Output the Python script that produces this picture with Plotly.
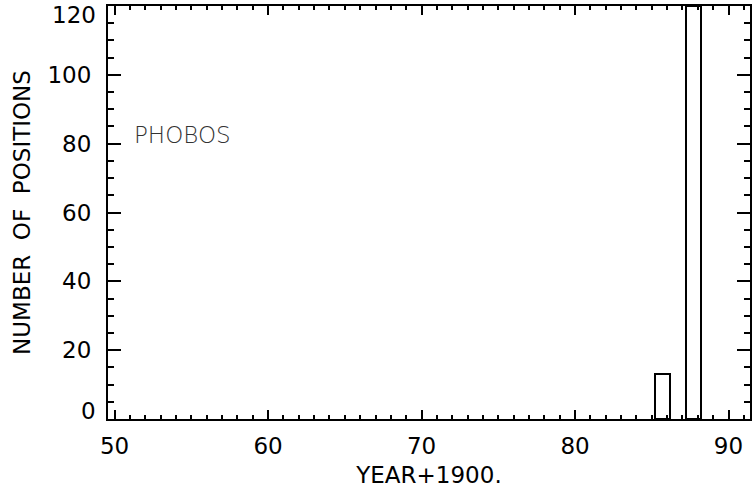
import plotly.graph_objects as go

# Histogram of observed positions per year
years = [85.7, 87.7]          # bin centres (year - 1900)
counts = [13, 120]            # positions per bin
bin_width = 1.0

x_range = [49.57, 91.4]
y_range = [0, 120]
y_labels = [20, 40, 60, 80, 100]

font_main = "DejaVu Sans"
fsize = 23

fig = go.Figure()
fig.add_trace(go.Bar(
    x=years,
    y=counts,
    width=bin_width,
    marker=dict(color="white", line=dict(color="black", width=2)),
    showlegend=False,
    cliponaxis=True,
))

fig.update_layout(
    width=754,
    height=492,
    margin=dict(l=108, r=2, t=6, b=73),
    paper_bgcolor="white",
    plot_bgcolor="white",
    font=dict(family=font_main, color="black", size=fsize),
    bargap=0,
)

fig.update_xaxes(
    range=x_range,
    showgrid=False,
    zeroline=False,
    showline=True,
    linecolor="black",
    linewidth=2,
    mirror="allticks",
    ticks="inside",
    ticklen=9,
    tickwidth=2,
    tickcolor="black",
    tick0=50,
    dtick=10,
    ticklabelstandoff=5,
    tickfont=dict(size=fsize),
    minor=dict(dtick=1, ticks="inside", ticklen=4, tickwidth=2, tickcolor="black", showgrid=False),
    title=dict(text="YEAR+1900.", font=dict(size=fsize), standoff=9),
)

fig.update_yaxes(
    range=y_range,
    showgrid=False,
    zeroline=False,
    showline=True,
    linecolor="black",
    linewidth=2,
    mirror="allticks",
    ticks="inside",
    ticklen=13,
    tickwidth=2,
    tickcolor="black",
    tickmode="array",
    tickvals=y_labels,
    ticktext=[str(v) for v in y_labels],
    ticklabelstandoff=10,
    tickfont=dict(size=fsize),
    minor=dict(tick0=0, dtick=5, ticks="inside", ticklen=6, tickwidth=2, tickcolor="black", showgrid=False),
    title=dict(text="NUMBER\u00a0\u00a0OF\u00a0\u00a0POSITIONS", font=dict(size=fsize), standoff=10),
)

# End labels of the y axis sit just inside the frame
for val, shift in [(y_range[0], 8), (y_range[1], -9)]:
    fig.add_annotation(
        x=0, xref="paper", y=val, yref="y",
        text=str(val), showarrow=False,
        xanchor="right", yanchor="middle", xshift=-10, yshift=shift,
        font=dict(size=fsize, family=font_main, color="black"),
    )

fig.add_annotation(
    x=51.13, y=82.4, xref="x", yref="y",
    text="PHOBOS", showarrow=False,
    xanchor="left", yanchor="middle",
    font=dict(size=fsize, family=font_main, color="#333333", weight=200),
)

fig.write_html("out.html")
